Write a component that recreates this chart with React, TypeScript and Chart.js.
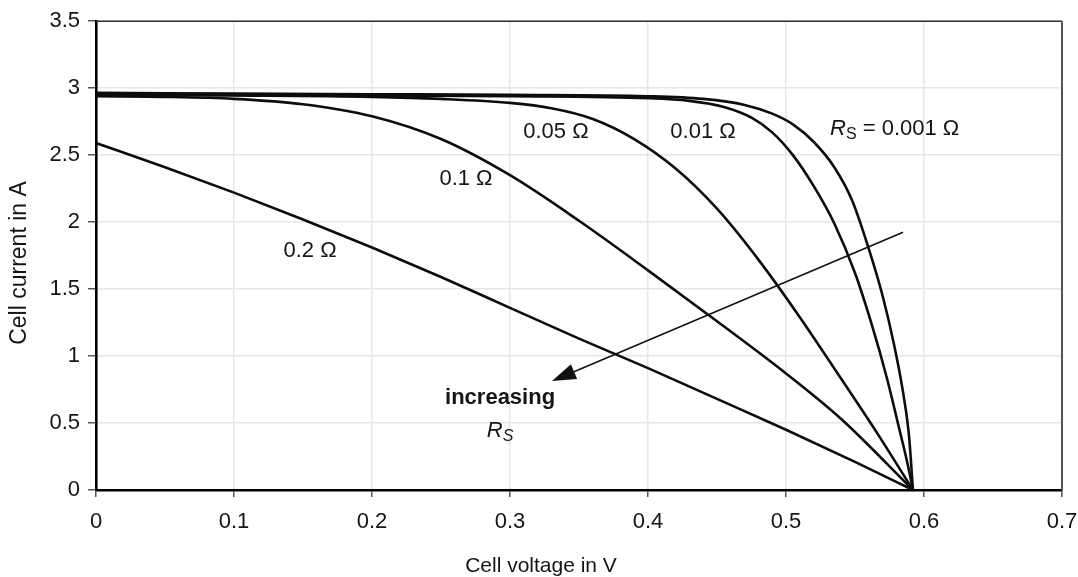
import React, { useEffect, useRef } from "react";
import { Chart, registerables } from "chart.js";

Chart.register(...registerables);

// ---- Data ----
const V_RS_0001 = [0, 0.1, 0.2, 0.3, 0.4, 0.44, 0.47, 0.49, 0.505, 0.52, 0.535, 0.548, 0.56, 0.57, 0.578, 0.584, 0.589, 0.592];
const I_RS_0001 = [2.965, 2.96, 2.955, 2.95, 2.94, 2.92, 2.875, 2.81, 2.73, 2.6, 2.41, 2.16, 1.8, 1.45, 1.1, 0.78, 0.42, 0];

const V_RS_001 = [0, 0.1, 0.2, 0.3, 0.4, 0.43, 0.455, 0.475, 0.49, 0.505, 0.52, 0.535, 0.55, 0.562, 0.573, 0.582, 0.588, 0.592];
const I_RS_001 = [2.955, 2.95, 2.945, 2.94, 2.925, 2.905, 2.86, 2.78, 2.67, 2.5, 2.27, 1.99, 1.62, 1.24, 0.84, 0.46, 0.2, 0];

const V_RS_005 = [0, 0.1, 0.2, 0.25, 0.3, 0.33, 0.36, 0.39, 0.42, 0.45, 0.48, 0.51, 0.54, 0.567, 0.592];
const I_RS_005 = [2.95, 2.945, 2.935, 2.92, 2.89, 2.85, 2.77, 2.62, 2.4, 2.1, 1.72, 1.29, 0.83, 0.41, 0];

const V_RS_01 = [0, 0.05, 0.1, 0.15, 0.2, 0.25, 0.3, 0.35, 0.4, 0.45, 0.5, 0.54, 0.592];
const I_RS_01 = [2.94, 2.935, 2.92, 2.88, 2.79, 2.62, 2.35, 2.01, 1.64, 1.26, 0.87, 0.53, 0];

const V_RS_02 = [0, 0.05, 0.1, 0.15, 0.2, 0.25, 0.3, 0.35, 0.4, 0.45, 0.5, 0.55, 0.592];
const I_RS_02 = [2.59, 2.41, 2.22, 2.02, 1.81, 1.59, 1.36, 1.13, 0.91, 0.68, 0.45, 0.21, 0];

const X_MIN = 0;
const X_MAX = 0.7;
const X_STEP = 0.1;
const Y_MIN = 0;
const Y_MAX = 3.5;
const Y_STEP = 0.5;

const X_TITLE = "Cell voltage in V";
const Y_TITLE = "Cell current in A";

// Curve labels (anchored in data coordinates, text baseline)
const CURVE_LABELS = [
  { text: "0.05 Ω", v: 0.3333, i: 2.631 },
  { text: "0.01 Ω", v: 0.4399, i: 2.627 },
  { text: "0.1 Ω", v: 0.2681, i: 2.276 },
  { text: "0.2 Ω", v: 0.1551, i: 1.739 },
];
const RS_LABEL = { value: " = 0.001 Ω", v: 0.5319, i: 2.649 };
const INCREASING_LABEL = { text: "increasing", v: 0.2928, i: 0.642 };
const INCREASING_RS = { v: 0.2928, i: 0.396 };
const ARROW = { fromV: 0.5848, fromI: 1.925, toV: 0.3304, toI: 0.813 };

const FONT = '"Liberation Sans", Arial, Helvetica, sans-serif';
const TEXT_COLOR = "#151515";

const toPoints = (v: number[], i: number[]) => v.map((x, k) => ({ x, y: i[k] }));

const annotationPlugin = {
  id: "ivAnnotations",
  afterDatasetsDraw(chart: any) {
    const { ctx, chartArea, scales } = chart;
    const xs = scales.x;
    const ys = scales.y;
    ctx.save();

    // top and right frame
    ctx.strokeStyle = "#333";
    ctx.lineWidth = 1.5;
    ctx.beginPath();
    ctx.moveTo(chartArea.left, chartArea.top);
    ctx.lineTo(chartArea.right, chartArea.top);
    ctx.stroke();
    ctx.strokeStyle = "#555";
    ctx.lineWidth = 2;
    ctx.beginPath();
    ctx.moveTo(chartArea.right, chartArea.top);
    ctx.lineTo(chartArea.right, chartArea.bottom);
    ctx.stroke();

    // arrow
    const x1 = xs.getPixelForValue(ARROW.fromV);
    const y1 = ys.getPixelForValue(ARROW.fromI);
    const x2 = xs.getPixelForValue(ARROW.toV);
    const y2 = ys.getPixelForValue(ARROW.toI);
    const ang = Math.atan2(y2 - y1, x2 - x1);
    const headLen = 24;
    const headHalf = 8;
    ctx.strokeStyle = "#111";
    ctx.fillStyle = "#111";
    ctx.lineWidth = 1.6;
    ctx.beginPath();
    ctx.moveTo(x1, y1);
    ctx.lineTo(x2 - Math.cos(ang) * (headLen - 2), y2 - Math.sin(ang) * (headLen - 2));
    ctx.stroke();
    const bx = x2 - Math.cos(ang) * headLen;
    const by = y2 - Math.sin(ang) * headLen;
    ctx.beginPath();
    ctx.moveTo(x2, y2);
    ctx.lineTo(bx + Math.sin(ang) * headHalf, by - Math.cos(ang) * headHalf);
    ctx.lineTo(bx - Math.sin(ang) * headHalf, by + Math.cos(ang) * headHalf);
    ctx.closePath();
    ctx.fill();

    // curve labels
    ctx.fillStyle = TEXT_COLOR;
    ctx.textBaseline = "alphabetic";
    ctx.textAlign = "center";
    ctx.font = `22px ${FONT}`;
    for (const l of CURVE_LABELS) {
      ctx.fillText(l.text, xs.getPixelForValue(l.v), ys.getPixelForValue(l.i));
    }

    // R_S = 0.001 Ω
    ctx.textAlign = "left";
    let px = xs.getPixelForValue(RS_LABEL.v);
    const py = ys.getPixelForValue(RS_LABEL.i);
    ctx.font = `italic 22px ${FONT}`;
    ctx.fillText("R", px, py);
    px += ctx.measureText("R").width;
    ctx.font = `16px ${FONT}`;
    ctx.fillText("S", px, py + 4);
    px += ctx.measureText("S").width;
    ctx.font = `22px ${FONT}`;
    ctx.fillText(RS_LABEL.value, px, py);

    // increasing R_S
    ctx.textAlign = "center";
    ctx.font = `bold 22px ${FONT}`;
    ctx.fillText(INCREASING_LABEL.text, xs.getPixelForValue(INCREASING_LABEL.v), ys.getPixelForValue(INCREASING_LABEL.i));
    ctx.textAlign = "left";
    ctx.font = `italic 22px ${FONT}`;
    const rW = ctx.measureText("R").width;
    ctx.font = `italic 16px ${FONT}`;
    const sW = ctx.measureText("S").width;
    let rx = xs.getPixelForValue(INCREASING_RS.v) - (rW + sW) / 2;
    const ry = ys.getPixelForValue(INCREASING_RS.i);
    ctx.font = `italic 22px ${FONT}`;
    ctx.fillText("R", rx, ry);
    rx += rW;
    ctx.font = `italic 16px ${FONT}`;
    ctx.fillText("S", rx, ry + 4);

    // axis titles (placed as in the reference, slightly off-centre)
    ctx.textAlign = "center";
    ctx.textBaseline = "alphabetic";
    ctx.font = `21px ${FONT}`;
    ctx.fillText(X_TITLE, 541, 572);
    ctx.save();
    ctx.translate(26, 263);
    ctx.rotate(-Math.PI / 2);
    ctx.font = `23px ${FONT}`;
    ctx.fillText(Y_TITLE, 0, 0);
    ctx.restore();

    ctx.restore();
  },
};

export default function App() {
  const canvasRef = useRef<HTMLCanvasElement | null>(null);

  useEffect(() => {
    if (!canvasRef.current) return;
    const lineStyle = {
      borderColor: "#0d0d0d",
      borderWidth: 2.6,
      pointRadius: 0,
      fill: false,
      cubicInterpolationMode: "monotone" as const,
    };
    const chart = new Chart(canvasRef.current, {
      type: "line",
      data: {
        datasets: [
          { label: "Rs = 0.2 Ω", data: toPoints(V_RS_02, I_RS_02), ...lineStyle },
          { label: "Rs = 0.1 Ω", data: toPoints(V_RS_01, I_RS_01), ...lineStyle },
          { label: "Rs = 0.05 Ω", data: toPoints(V_RS_005, I_RS_005), ...lineStyle },
          { label: "Rs = 0.01 Ω", data: toPoints(V_RS_001, I_RS_001), ...lineStyle },
          { label: "Rs = 0.001 Ω", data: toPoints(V_RS_0001, I_RS_0001), ...lineStyle },
        ],
      },
      options: {
        animation: false,
        responsive: false,
        maintainAspectRatio: false,
        layout: { padding: { top: 21, right: 0, bottom: 0, left: 0 } },
        plugins: {
          legend: { display: false },
          tooltip: { enabled: false },
        },
        scales: {
          x: {
            type: "linear",
            min: X_MIN,
            max: X_MAX,
            afterFit: (s: any) => {
              s.height = 87;
              s.paddingLeft = 0;
              s.paddingRight = 16;
            },
            ticks: {
              stepSize: X_STEP,
              color: TEXT_COLOR,
              font: { family: FONT, size: 22 },
              padding: 12,
              maxRotation: 0,
              callback: (v: any) => String(Math.round(Number(v) * 10) / 10),
            },
            grid: {
              color: "#e6e6e6",
              lineWidth: 1.5,
              tickColor: "#555",
              tickLength: 7,
            },
            border: { display: true, color: "#000", width: 2.6 },
            title: { display: false, text: X_TITLE },
          },
          y: {
            type: "linear",
            min: Y_MIN,
            max: Y_MAX,
            afterFit: (s: any) => {
              s.width = 96;
            },
            ticks: {
              stepSize: Y_STEP,
              color: TEXT_COLOR,
              font: { family: FONT, size: 22 },
              padding: 8,
              callback: (v: any) => String(Math.round(Number(v) * 10) / 10),
            },
            grid: {
              color: "#e6e6e6",
              lineWidth: 1.5,
              tickColor: "#555",
              tickLength: 8,
            },
            border: { display: true, color: "#000", width: 2.6 },
            title: { display: false, text: Y_TITLE },
          },
        },
      },
      plugins: [annotationPlugin],
    });
    return () => chart.destroy();
  }, []);

  return (
    <div style={{ position: "absolute", left: 0, top: 0, width: 1078, height: 577, background: "#fff" }}>
      <canvas ref={canvasRef} width={1078} height={577} style={{ display: "block" }} />
    </div>
  );
}
